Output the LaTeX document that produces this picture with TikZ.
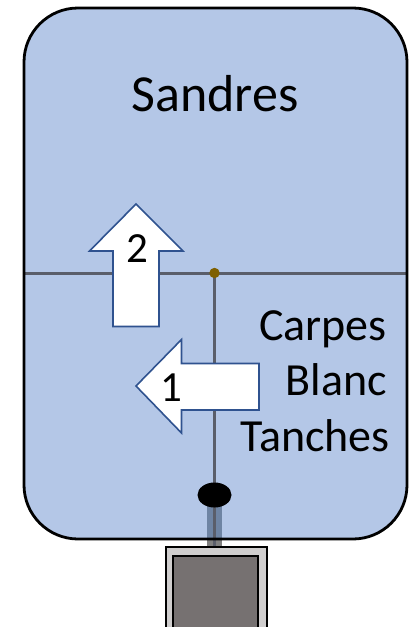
\documentclass[tikz,border=0pt]{standalone}
\usepackage{fontspec}
\setmainfont{Carlito}
\definecolor{pond}{HTML}{B4C7E7}
\definecolor{grid}{HTML}{5A5E6A}
\definecolor{valve}{HTML}{7F6000}
\definecolor{arrowedge}{HTML}{2F528F}
\definecolor{stem}{HTML}{6E84A3}
\definecolor{casing}{HTML}{D0CECE}
\definecolor{monk}{HTML}{767171}
\tikzset{
  pondline/.style={draw=grid, line width=3pt},
  bigarrow/.style={fill=white, draw=arrowedge, line width=1.6pt, line join=miter},
  label/.style={font=\fontsize{46}{52}\selectfont, inner sep=0pt},
  digit/.style={font=\fontsize{43}{48}\selectfont, inner sep=0pt}
}
\begin{document}
\begin{tikzpicture}[x=1pt,y=-1pt]
\useasboundingbox (0,0) rectangle (418,627);
% pond body
\fill[pond, rounded corners=54pt] (24,8) rectangle (407,539);
% dividing lines
\draw[pondline] (24,273) -- (407,273);
% outflow stem
\fill[stem] (207,506) rectangle (222,539);
\fill[black!50] (207,539) rectangle (222,546);
\draw[draw=grid, line width=2.8pt] (214.5,273) -- (214.5,546);
\fill[valve] (214.5,273) circle (5.2);
\fill[black] (214.5,495) ellipse (17 and 12.5);
% pond outline
\draw[black, line width=2.8pt, rounded corners=54pt] (24,8) rectangle (407,539);
% arrow 2 (up)
\draw[bigarrow] (136,204) -- (183,251) -- (159,251) -- (159,326.5) -- (113,326.5) -- (113,251) -- (89.5,251) -- cycle;
\node[digit] (n2) at (137,249) {2};
% arrow 1 (left)
\draw[bigarrow] (136,386) -- (181.5,339.5) -- (181.5,363.5) -- (259,363.5) -- (259,410) -- (181.5,410) -- (181.5,433) -- cycle;
\node[digit] (n1) at (171.5,388) {1};
% labels
\node[font=\fontsize{52}{58}\selectfont, inner sep=0pt, anchor=base] (top) at (215,111.5) {Sandres};
\node[label, anchor=base east] (c) at (387,340) {Carpes};
\node[label, anchor=base east] (b) at (387,395.5) {Blanc};
\node[label, anchor=base east] (t) at (390,451) {Tanches};
% monk box
\draw[fill=casing, line width=2pt] (166,546.5) rectangle (266.5,640);
\draw[fill=monk, line width=2pt] (173,555.5) rectangle (257.5,640);
\end{tikzpicture}
\end{document}
